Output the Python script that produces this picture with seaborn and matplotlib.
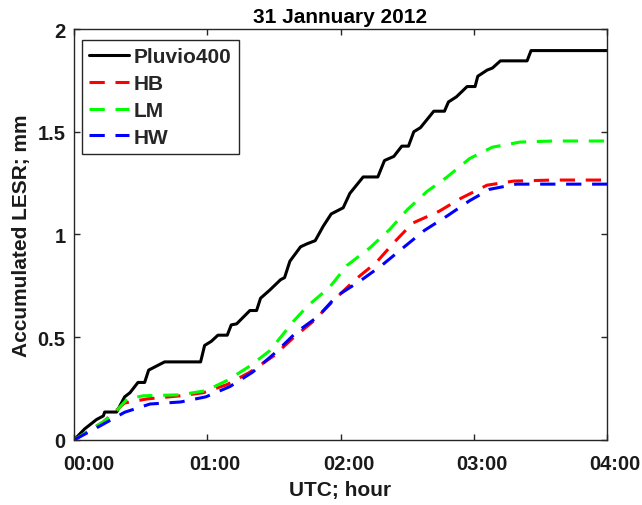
import numpy as np
import pandas as pd
import matplotlib
matplotlib.use("Agg")
import matplotlib.pyplot as plt
import matplotlib.transforms as mtransforms
import seaborn as sns

# ---- data (hours since 00:00 UTC, accumulated LESR in mm) ----
pluvio_t = [0.0, 0.08, 0.17, 0.22, 0.23, 0.32, 0.38, 0.42, 0.48, 0.53, 0.56, 0.62, 0.68,
            0.95, 0.98, 1.03, 1.08, 1.15, 1.18, 1.22, 1.32, 1.37, 1.40, 1.47, 1.55, 1.58,
            1.62, 1.70, 1.75, 1.81, 1.87, 1.93, 2.02, 2.07, 2.17, 2.28, 2.33, 2.40, 2.46,
            2.51, 2.55, 2.60, 2.70, 2.78, 2.81, 2.87, 2.95, 3.01, 3.03, 3.10, 3.14, 3.20,
            3.40, 3.43, 4.0]
pluvio_v = [0.0, 0.054, 0.10, 0.117, 0.136, 0.136, 0.21, 0.23, 0.28, 0.28, 0.34, 0.36, 0.38,
            0.38, 0.46, 0.48, 0.51, 0.51, 0.56, 0.565, 0.63, 0.63, 0.69, 0.73, 0.78, 0.79,
            0.87, 0.94, 0.955, 0.97, 1.04, 1.10, 1.13, 1.20, 1.28, 1.28, 1.36, 1.38, 1.43,
            1.43, 1.50, 1.52, 1.60, 1.60, 1.645, 1.67, 1.72, 1.72, 1.77, 1.80, 1.81, 1.845,
            1.845, 1.895, 1.895]

lm_t = [0.0, 0.22, 0.33, 0.40, 0.52, 0.80, 0.99, 1.15, 1.32, 1.47, 1.65, 1.75, 1.92, 2.05,
        2.22, 2.37, 2.50, 2.65, 2.80, 2.97, 3.14, 3.35, 3.6, 4.0]
lm_v = [0.0, 0.088, 0.15, 0.20, 0.215, 0.22, 0.24, 0.29, 0.36, 0.435, 0.58, 0.65, 0.745, 0.85,
        0.935, 1.025, 1.12, 1.21, 1.28, 1.37, 1.425, 1.45, 1.455, 1.455]

hb_t = [0.0, 0.22, 0.38, 0.55, 0.80, 0.97, 1.15, 1.32, 1.50, 1.65, 1.80, 1.95, 2.11, 2.27,
        2.40, 2.54, 2.74, 2.90, 3.10, 3.30, 3.6, 4.0]
hb_v = [0.0, 0.088, 0.18, 0.20, 0.215, 0.23, 0.27, 0.33, 0.41, 0.50, 0.58, 0.68, 0.78, 0.865,
        0.96, 1.055, 1.113, 1.175, 1.24, 1.26, 1.265, 1.265]

hw_t = [0.0, 0.20, 0.38, 0.57, 0.80, 0.99, 1.17, 1.34, 1.52, 1.67, 1.83, 1.97, 2.15, 2.31,
        2.46, 2.63, 2.80, 2.97, 3.12, 3.32, 3.6, 4.0]
hw_v = [0.0, 0.07, 0.135, 0.175, 0.185, 0.21, 0.26, 0.33, 0.43, 0.525, 0.60, 0.70, 0.775, 0.85,
        0.93, 1.02, 1.09, 1.165, 1.22, 1.245, 1.245, 1.245]

series_names = ["Pluvio400", "HB", "LM", "HW"]
x_ticks = [0, 1, 2, 3, 4]
x_ticklabels = ["00:00", "01:00", "02:00", "03:00", "04:00"]
y_ticks = [0, 0.5, 1, 1.5, 2]
y_ticklabels = ["0", "0.5", "1", "1.5", "2"]

frames = []
for name, t, v in [("Pluvio400", pluvio_t, pluvio_v), ("HB", hb_t, hb_v),
                   ("LM", lm_t, lm_v), ("HW", hw_t, hw_v)]:
    frames.append(pd.DataFrame({"t": t, "v": v, "series": name}))
df = pd.concat(frames, ignore_index=True)

sns.set_theme(style="ticks")
plt.rcParams["font.family"] = ["Liberation Sans", "DejaVu Sans"]
plt.rcParams["font.weight"] = "bold"

fig = plt.figure(figsize=(6.42, 5.06), dpi=100)
ax = fig.add_axes([0.1153, 0.1285, 0.8302, 0.8122])

palette = {"Pluvio400": "#000000", "HB": "#ff0000", "LM": "#00ff00", "HW": "#0000ff"}
dashes = {"Pluvio400": "", "HB": (5, 3.5), "LM": (5, 3.5), "HW": (5, 3.5)}
sns.lineplot(data=df, x="t", y="v", hue="series", style="series",
             hue_order=series_names, style_order=series_names,
             palette=palette, dashes=dashes, estimator=None, sort=False,
             linewidth=2.2, ax=ax)

ax.set_xlim(0, 4)
ax.set_ylim(0, 2)
ax.set_xticks(x_ticks)
ax.set_xticklabels(x_ticklabels)
ax.set_yticks(y_ticks)
ax.set_yticklabels(y_ticklabels)
ax.tick_params(direction="in", length=4, width=1, top=True, right=True,
               labelsize=14.5, colors="#262626", labelcolor="#1a1a1a")
ax.tick_params(axis="x", pad=10)
ax.tick_params(axis="y", pad=6)
for lab in ax.get_xticklabels() + ax.get_yticklabels():
    lab.set_fontweight("bold")
for sp in ax.spines.values():
    sp.set_visible(True)
    sp.set_color("#262626")
    sp.set_linewidth(1.0)

ax.set_xlabel("UTC; hour", fontsize=15, fontweight="bold", color="#1a1a1a", labelpad=5)
ax.set_ylabel("Accumulated LESR; mm", fontsize=15, fontweight="bold", color="#1a1a1a", labelpad=5)
ax.set_title("31 Jannuary 2012", fontsize=15, fontweight="bold", color="#000000", pad=5)

leg = ax.legend(loc="upper left", fontsize=15, frameon=True, fancybox=False,
                edgecolor="#262626", framealpha=1, handlelength=1.9,
                borderpad=0.35, labelspacing=0.38, handletextpad=0.25,
                borderaxespad=0.0, bbox_to_anchor=(0.0145, 0.974))
leg.get_frame().set_linewidth(1.0)
for txt in leg.get_texts():
    txt.set_fontweight("bold")

# x tick labels in the reference sit slightly right of their ticks
fig.canvas.draw()
shifts_px = [15, 8, 8, 8, 8]
for tick, s in zip(ax.xaxis.get_major_ticks(), shifts_px):
    off = mtransforms.ScaledTranslation(s / 100.0, 0, fig.dpi_scale_trans)
    tick.label1.set_transform(tick.label1.get_transform() + off)

fig.savefig("out.png", dpi=100, facecolor="white")
